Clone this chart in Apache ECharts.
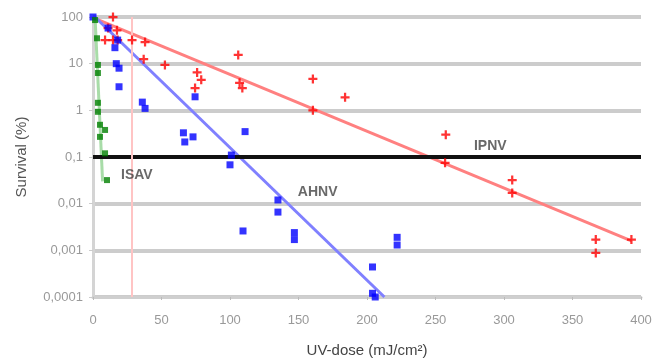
<!DOCTYPE html>
<html>
<head>
<meta charset="utf-8">
<script src="https://cdn.jsdelivr.net/npm/echarts@6/dist/echarts.min.js"></script>
<style>
  html, body { margin: 0; padding: 0; background: #fff; }
  #chart { width: 652px; height: 358px; }
</style>
</head>
<body>
<div id="chart"></div>
<script>
// Survival (%) against UV dose for three fish viruses
const xTicks = [0, 50, 100, 150, 200, 250, 300, 350, 400];
const yTickValues = [0.0001, 0.001, 0.01, 0.1, 1, 10, 100];
const yTickLabels = ['0,0001', '0,001', '0,01', '0,1', '1', '10', '100'];

// IPNV measurements
const ipnvDose = [14.6, 11, 17.5, 8.8, 14.6, 18, 28.5, 38, 37, 52.5, 76, 79, 74.5, 106, 107, 109, 160.5, 160.5, 184, 257.5, 257, 306, 306, 367, 367, 393];
const ipnvSurv = [100, 58, 52, 32, 32, 32, 32, 29, 12.5, 9.4, 6.5, 4.5, 3.0, 15.4, 3.9, 3.0, 4.7, 1.0, 1.9, 0.30, 0.075, 0.032, 0.017, 0.0017, 0.00088, 0.0017];

// AHNV measurements
const ahnvDose = [0, 11, 18, 16, 17, 19, 19, 36, 38, 74.5, 66, 73, 67, 111, 101, 100, 135, 135, 109.5, 147, 147, 222, 222, 204, 204, 206];
const ahnvSurv = [100, 58, 32, 22, 10, 8, 3.2, 1.5, 1.1, 1.95, 0.33, 0.27, 0.21, 0.35, 0.11, 0.068, 0.012, 0.0066, 0.0026, 0.0024, 0.0017, 0.0019, 0.0013, 0.00044, 0.00012, 0.0001];

// ISAV measurements
const isavDose = [1.5, 2.9, 3.6, 3.6, 3.6, 3.6, 5.1, 8.8, 5.1, 8.8, 10.2];
const isavSurv = [86, 35, 9.4, 6.3, 1.45, 0.93, 0.49, 0.38, 0.27, 0.12, 0.032];

// Log-linear regression lines (end points)
const ipnvFitDose = [0, 393];
const ipnvFitSurv = [96.6, 0.0016];
const ahnvFitDose = [1.4, 212.7];
const ahnvFitSurv = [100, 0.0001];
const isavFitDose = [1.5, 7];
const isavFitSurv = [100, 0.03];

// Reference levels
const thresholdSurv = 0.1;
const markerDose = 28;

// Series name labels and where they sit
const labelNames = ['ISAV', 'AHNV', 'IPNV'];
const labelDose = [32, 164, 290];
const labelSurv = [0.041, 0.018, 0.17];

const zip = (xs, ys) => xs.map((x, i) => [x, ys[i]]);
const crossPath = 'path://M3,0H5V3H8V5H5V8H3V5H0V3H3Z';

const chart = echarts.init(document.getElementById('chart'), null, { renderer: 'canvas' });

chart.setOption({
  animation: false,
  backgroundColor: '#ffffff',
  grid: { left: 93, right: 11, top: 17, bottom: 61, containLabel: false, outerBoundsMode: 'none' },
  xAxis: {
    type: 'value',
    min: xTicks[0],
    max: xTicks[xTicks.length - 1],
    interval: 50,
    name: 'UV-dose (mJ/cm²)',
    nameLocation: 'middle',
    nameGap: 46,
    nameTextStyle: { fontFamily: 'Liberation Sans', fontSize: 15, color: '#444' },
    axisLine: { show: true, lineStyle: { color: '#cfcfcf', width: 3 } },
    axisTick: { show: true, length: 3, lineStyle: { color: '#bbb' } },
    axisLabel: { fontFamily: 'Liberation Sans', fontSize: 13, color: '#999', margin: 17 },
    splitLine: { show: false }
  },
  yAxis: {
    type: 'log',
    logBase: 10,
    min: yTickValues[0],
    max: yTickValues[yTickValues.length - 1],
    name: 'Survival (%)',
    nameLocation: 'middle',
    nameGap: 64,
    nameTextStyle: { fontFamily: 'Liberation Sans', fontSize: 15, color: '#555' },
    axisLine: { show: true, lineStyle: { color: '#d4d4d4', width: 3 } },
    axisTick: { show: true, length: 4, lineStyle: { color: '#ccc' } },
    axisLabel: {
      fontFamily: 'Liberation Sans', fontSize: 13, color: '#999', margin: 10,
      formatter: v => {
        const i = yTickValues.findIndex(t => Math.abs(Math.log10(t) - Math.log10(v)) < 1e-6);
        return i >= 0 ? yTickLabels[i] : '';
      }
    },
    splitLine: { show: true, lineStyle: { color: '#cccccc', width: 4 } }
  },
  series: [
    {
      name: 'threshold',
      type: 'line',
      data: [],
      silent: true,
      markLine: {
        silent: true, symbol: 'none', label: { show: false },
        data: [
          { yAxis: thresholdSurv, lineStyle: { color: '#111', width: 4, type: 'solid' } },
          { xAxis: markerDose, lineStyle: { color: '#ffc4c4', width: 2, type: 'solid' } }
        ]
      }
    },
    {
      name: 'IPNV fit', type: 'line', data: zip(ipnvFitDose, ipnvFitSurv),
      symbol: 'none', lineStyle: { color: '#ff8080', width: 3 }, z: 3
    },
    {
      name: 'AHNV fit', type: 'line', data: zip(ahnvFitDose, ahnvFitSurv),
      symbol: 'none', lineStyle: { color: '#8080ff', width: 3 }, z: 3
    },
    {
      name: 'ISAV fit', type: 'line', data: zip(isavFitDose, isavFitSurv),
      symbol: 'none', lineStyle: { color: '#a8dca8', width: 3 }, z: 3
    },
    {
      name: 'IPNV', type: 'scatter', data: zip(ipnvDose, ipnvSurv),
      symbol: crossPath, symbolSize: 9, itemStyle: { color: '#ff0000' }, z: 5
    },
    {
      name: 'AHNV', type: 'scatter', data: zip(ahnvDose, ahnvSurv),
      symbol: 'rect', symbolSize: 7, itemStyle: { color: '#0000ff' }, z: 5
    },
    {
      name: 'ISAV', type: 'scatter', data: zip(isavDose, isavSurv),
      symbol: 'rect', symbolSize: 6, itemStyle: { color: '#008000' }, z: 5
    },
    {
      name: 'labels', type: 'scatter', symbolSize: 0, silent: true, z: 6,
      data: labelNames.map((n, i) => ({ name: n, value: [labelDose[i], labelSurv[i]] })),
      label: {
        show: true, position: 'inside', formatter: p => p.name,
        fontFamily: 'Liberation Sans', fontSize: 14, fontWeight: 'bold', color: '#444'
      }
    }
  ]
});
</script>
</body>
</html>
